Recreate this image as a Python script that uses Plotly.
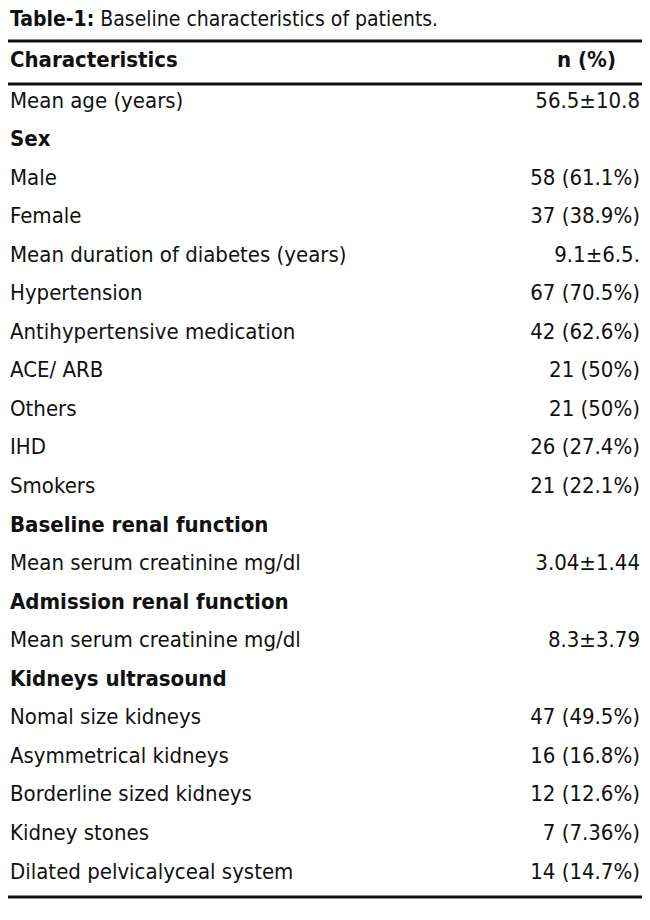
import plotly.graph_objects as go

# table content
title_bold = "Table-1:"
title_rest = " Baseline characteristics of patients."
header = ["Characteristics", "n (%)"]

labels = [
    "Mean age (years)", "Sex", "Male", "Female",
    "Mean duration of diabetes (years)", "Hypertension",
    "Antihypertensive medication", "ACE/ ARB", "Others", "IHD", "Smokers",
    "Baseline renal function", "Mean serum creatinine mg/dl",
    "Admission renal function", "Mean serum creatinine mg/dl",
    "Kidneys ultrasound", "Nomal size kidneys", "Asymmetrical kidneys",
    "Borderline sized kidneys", "Kidney stones", "Dilated pelvicalyceal system",
]
values = [
    "56.5±10.8", "", "58 (61.1%)", "37 (38.9%)", "9.1±6.5.", "67 (70.5%)",
    "42 (62.6%)", "21 (50%)", "21 (50%)", "26 (27.4%)", "21 (22.1%)",
    "", "3.04±1.44", "", "8.3±3.79", "", "47 (49.5%)", "16 (16.8%)",
    "12 (12.6%)", "7 (7.36%)", "14 (14.7%)",
]
bold_rows = [1, 11, 13, 15]

FONT = "DejaVu Sans Condensed, Arial Narrow, sans-serif"
W, H = 650, 920
OFF = 8  # page body margin, axes shifted so data units = page pixels
y0, dy = 102, 38.55
row_y = [y0 + i * dy for i in range(len(labels))]

fig = go.Figure()

reg = [i for i in range(len(labels)) if i not in bold_rows]
fig.add_trace(go.Scatter(
    x=[10] * len(reg), y=[row_y[i] for i in reg],
    text=[labels[i] for i in reg], mode="text", textposition="middle right",
    textfont=dict(family=FONT, size=22, color="#111"), hoverinfo="skip",
    cliponaxis=False,
))
fig.add_trace(go.Scatter(
    x=[10] * len(bold_rows), y=[row_y[i] for i in bold_rows],
    text=["<b>" + labels[i] + "</b>" for i in bold_rows], mode="text",
    textposition="middle right",
    textfont=dict(family=FONT, size=22, color="#111"), hoverinfo="skip",
    cliponaxis=False,
))
fig.add_trace(go.Scatter(
    x=[640] * len(values), y=row_y, text=values, mode="text",
    textposition="middle left",
    textfont=dict(family=FONT, size=22, color="#111"), hoverinfo="skip",
    cliponaxis=False,
))
# header row
fig.add_trace(go.Scatter(
    x=[10, 616], y=[61, 61], text=["<b>" + h + "</b>" for h in header],
    mode="text", textposition=["middle right", "middle left"],
    textfont=dict(family=FONT, size=22, color="#111"), hoverinfo="skip",
    cliponaxis=False,
))
# title
fig.add_trace(go.Scatter(
    x=[10], y=[21], text=["<b>" + title_bold + "</b>" + title_rest],
    mode="text", textposition="middle right",
    textfont=dict(family=FONT, size=21, color="#111"), hoverinfo="skip",
    cliponaxis=False,
))

for yy in [41, 84, 897]:
    fig.add_shape(type="line", x0=0, x1=W, y0=yy, y1=yy,
                  line=dict(color="#111", width=3))

fig.update_layout(
    width=W, height=H, margin=dict(l=0, r=0, t=0, b=0),
    paper_bgcolor="white", plot_bgcolor="white", showlegend=False,
    xaxis=dict(range=[OFF, W + OFF], visible=False, fixedrange=True),
    yaxis=dict(range=[H + OFF, OFF], visible=False, fixedrange=True),
)

fig.write_html("out.html")
